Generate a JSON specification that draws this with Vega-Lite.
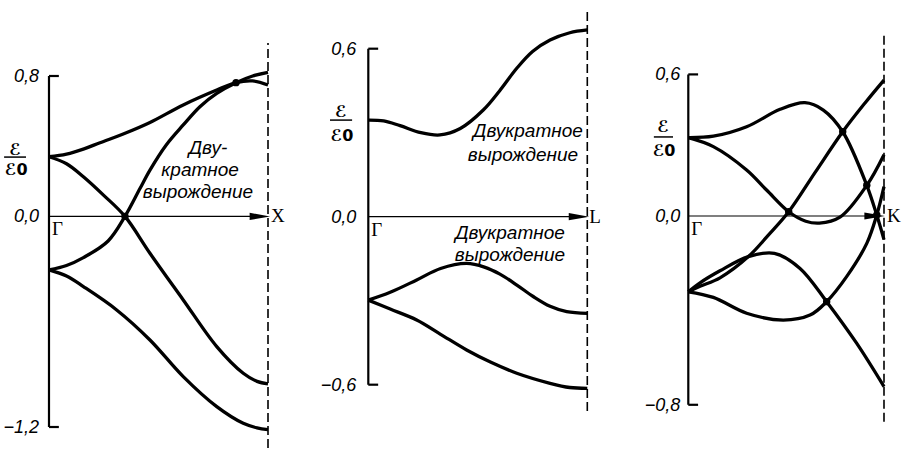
{
  "$schema": "https://vega.github.io/schema/vega-lite/v6.json",
  "padding": 0,
  "spacing": 0,
  "bounds": "flush",
  "background": "white",
  "config": {"view": {"stroke": null}, "axis": {"disable": true}},
  "resolve": {"scale": {"x": "independent", "y": "independent"}},
  "hconcat": [
    {
      "width": 300, "height": 451,
      "encoding": {
        "x": {"field": "k", "type": "quantitative", "axis": null, "scale": {"domain": [-0.2237, 1.1461], "nice": false, "zero": false}},
        "y": {"field": "v", "type": "quantitative", "axis": null, "scale": {"domain": [-1.3367, 1.2330], "nice": false, "zero": false}}
      },
      "layer": [
        {
          "data": {"values": [
            {"curve": "A", "k": 0, "v": 0.34}, {"curve": "A", "k": 0.08, "v": 0.355}, {"curve": "A", "k": 0.16, "v": 0.385}, {"curve": "A", "k": 0.233, "v": 0.42}, {"curve": "A", "k": 0.35, "v": 0.475}, {"curve": "A", "k": 0.461, "v": 0.535}, {"curve": "A", "k": 0.613, "v": 0.635}, {"curve": "A", "k": 0.766, "v": 0.72}, {"curve": "A", "k": 0.854, "v": 0.762}, {"curve": "A", "k": 0.93, "v": 0.772}, {"curve": "A", "k": 1.0, "v": 0.749},
            {"curve": "B", "k": 0, "v": 0.34}, {"curve": "B", "k": 0.08, "v": 0.30}, {"curve": "B", "k": 0.157, "v": 0.226}, {"curve": "B", "k": 0.25, "v": 0.12}, {"curve": "B", "k": 0.347, "v": 0.0}, {"curve": "B", "k": 0.461, "v": -0.21}, {"curve": "B", "k": 0.613, "v": -0.476}, {"curve": "B", "k": 0.766, "v": -0.742}, {"curve": "B", "k": 0.887, "v": -0.894}, {"curve": "B", "k": 0.95, "v": -0.94}, {"curve": "B", "k": 1.0, "v": -0.954},
            {"curve": "C", "k": 0, "v": -0.305}, {"curve": "C", "k": 0.08, "v": -0.28}, {"curve": "C", "k": 0.157, "v": -0.235}, {"curve": "C", "k": 0.27, "v": -0.14}, {"curve": "C", "k": 0.347, "v": 0.0}, {"curve": "C", "k": 0.416, "v": 0.16}, {"curve": "C", "k": 0.461, "v": 0.264}, {"curve": "C", "k": 0.537, "v": 0.41}, {"curve": "C", "k": 0.613, "v": 0.521}, {"curve": "C", "k": 0.689, "v": 0.625}, {"curve": "C", "k": 0.766, "v": 0.701}, {"curve": "C", "k": 0.854, "v": 0.762}, {"curve": "C", "k": 0.93, "v": 0.80}, {"curve": "C", "k": 1.0, "v": 0.821},
            {"curve": "D", "k": 0, "v": -0.305}, {"curve": "D", "k": 0.08, "v": -0.34}, {"curve": "D", "k": 0.157, "v": -0.40}, {"curve": "D", "k": 0.309, "v": -0.533}, {"curve": "D", "k": 0.461, "v": -0.704}, {"curve": "D", "k": 0.613, "v": -0.913}, {"curve": "D", "k": 0.766, "v": -1.084}, {"curve": "D", "k": 0.887, "v": -1.179}, {"curve": "D", "k": 0.95, "v": -1.205}, {"curve": "D", "k": 1.0, "v": -1.215}
          ]},
          "mark": {"type": "line", "interpolate": "catmull-rom", "color": "black", "strokeWidth": 3.3},
          "encoding": {"detail": {"field": "curve", "type": "nominal"}, "order": {"field": "k", "type": "quantitative"}}
        },
        {"data": {"values": [{"k": 0, "v": -1.2, "v2": 0.8}]}, "mark": {"type": "rule", "color": "black", "strokeWidth": 2.2}, "encoding": {"y2": {"field": "v2"}}},
        {"data": {"values": [{"k": 0, "k2": 0.045, "v": 0.8}, {"k": 0, "k2": 0.045, "v": -1.2}]}, "mark": {"type": "rule", "color": "black", "strokeWidth": 2.2}, "encoding": {"x2": {"field": "k2"}}},
        {"data": {"values": [{"k": 0, "k2": 0.96, "v": 0}]}, "mark": {"type": "rule", "color": "black", "strokeWidth": 1.2}, "encoding": {"x2": {"field": "k2"}}},
        {"data": {"values": [{"k": 0.963, "v": 0}]}, "mark": {"type": "point", "shape": "M-1,-0.35L1,0L-1,0.35Z", "filled": true, "color": "black", "opacity": 1, "size": 420}},
        {"data": {"values": [{"k": 1, "v": -1.32, "v2": 0.988}]}, "mark": {"type": "rule", "color": "black", "strokeWidth": 1.6, "strokeDash": [9, 4]}, "encoding": {"y2": {"field": "v2"}}},
        {"data": {"values": [{"k": 0.347, "v": 0}, {"k": 0.854, "v": 0.762}]}, "mark": {"type": "point", "filled": true, "color": "black", "opacity": 1, "size": 55}},
        {"data": {"values": [{"k": 0, "v": 0.8, "t": "0,8"}, {"k": 0, "v": 0, "t": "0,0"}, {"k": 0, "v": -1.2, "t": "−1,2"}]}, "mark": {"type": "text", "align": "right", "baseline": "middle", "dx": -10, "dy": 1, "font": "Liberation Sans", "fontStyle": "italic", "fontSize": 18, "color": "black"}, "encoding": {"text": {"field": "t"}}},
        {"data": {"values": [{"k": 0, "v": 0, "t": "Γ"}]}, "mark": {"type": "text", "align": "left", "baseline": "top", "dx": 3, "dy": 4, "font": "Liberation Serif", "fontSize": 19, "color": "black"}, "encoding": {"text": {"field": "t"}}},
        {"data": {"values": [{"k": 1, "v": 0, "t": "X"}]}, "mark": {"type": "text", "align": "left", "baseline": "middle", "dx": 3, "dy": 0, "font": "Liberation Serif", "fontSize": 19, "color": "black"}, "encoding": {"text": {"field": "t"}}},
        {"data": {"values": [{"k": 0.726, "v": 0.39, "t": "Дву-"}, {"k": 0.69, "v": 0.264, "t": "кратное"}, {"k": 0.68, "v": 0.139, "t": "вырождение"}]}, "mark": {"type": "text", "align": "center", "baseline": "middle", "font": "Liberation Sans", "fontStyle": "italic", "fontSize": 19, "color": "black"}, "encoding": {"text": {"field": "t"}}},
        {"data": {"values": [{"k": -0.155, "v": 0.378, "t": "ℰ"}, {"k": -0.15, "v": 0.264, "t": "ℰ0"}]}, "mark": {"type": "text", "align": "center", "baseline": "middle", "font": "DejaVu Sans", "fontSize": 16, "fontWeight": "bold", "color": "black"}, "encoding": {"text": {"field": "t"}}},
        {"data": {"values": [{"k": -0.205, "k2": -0.105, "v": 0.338}]}, "mark": {"type": "rule", "color": "black", "strokeWidth": 1.5}, "encoding": {"x2": {"field": "k2"}}}
      ]
    },
    {
      "width": 300, "height": 451,
      "encoding": {
        "x": {"field": "k", "type": "quantitative", "axis": null, "scale": {"domain": [-0.3119, 1.058], "nice": false, "zero": false}},
        "y": {"field": "v", "type": "quantitative", "axis": null, "scale": {"domain": [-0.8368, 0.7739], "nice": false, "zero": false}}
      },
      "layer": [
        {
          "data": {"values": [
            {"curve": "U", "k": 0, "v": 0.345}, {"curve": "U", "k": 0.07, "v": 0.342}, {"curve": "U", "k": 0.145, "v": 0.325}, {"curve": "U", "k": 0.24, "v": 0.30}, {"curve": "U", "k": 0.327, "v": 0.292}, {"curve": "U", "k": 0.42, "v": 0.315}, {"curve": "U", "k": 0.525, "v": 0.381}, {"curve": "U", "k": 0.6, "v": 0.45}, {"curve": "U", "k": 0.678, "v": 0.53}, {"curve": "U", "k": 0.75, "v": 0.59}, {"curve": "U", "k": 0.83, "v": 0.631}, {"curve": "U", "k": 0.92, "v": 0.657}, {"curve": "U", "k": 1.0, "v": 0.667},
            {"curve": "L1", "k": 0, "v": -0.298}, {"curve": "L1", "k": 0.1, "v": -0.27}, {"curve": "L1", "k": 0.221, "v": -0.226}, {"curve": "L1", "k": 0.33, "v": -0.185}, {"curve": "L1", "k": 0.449, "v": -0.167}, {"curve": "L1", "k": 0.53, "v": -0.18}, {"curve": "L1", "k": 0.601, "v": -0.205}, {"curve": "L1", "k": 0.68, "v": -0.245}, {"curve": "L1", "k": 0.753, "v": -0.285}, {"curve": "L1", "k": 0.83, "v": -0.32}, {"curve": "L1", "k": 0.906, "v": -0.339}, {"curve": "L1", "k": 1.0, "v": -0.345},
            {"curve": "L2", "k": 0, "v": -0.298}, {"curve": "L2", "k": 0.1, "v": -0.33}, {"curve": "L2", "k": 0.221, "v": -0.369}, {"curve": "L2", "k": 0.33, "v": -0.42}, {"curve": "L2", "k": 0.449, "v": -0.476}, {"curve": "L2", "k": 0.56, "v": -0.52}, {"curve": "L2", "k": 0.678, "v": -0.559}, {"curve": "L2", "k": 0.83, "v": -0.595}, {"curve": "L2", "k": 0.92, "v": -0.61}, {"curve": "L2", "k": 1.0, "v": -0.613}
          ]},
          "mark": {"type": "line", "interpolate": "catmull-rom", "color": "black", "strokeWidth": 3.3},
          "encoding": {"detail": {"field": "curve", "type": "nominal"}, "order": {"field": "k", "type": "quantitative"}}
        },
        {"data": {"values": [{"k": 0, "v": -0.6, "v2": 0.6}]}, "mark": {"type": "rule", "color": "black", "strokeWidth": 2.2}, "encoding": {"y2": {"field": "v2"}}},
        {"data": {"values": [{"k": 0, "k2": 0.045, "v": 0.6}, {"k": 0, "k2": 0.045, "v": -0.6}]}, "mark": {"type": "rule", "color": "black", "strokeWidth": 2.2}, "encoding": {"x2": {"field": "k2"}}},
        {"data": {"values": [{"k": 0, "k2": 0.96, "v": 0}]}, "mark": {"type": "rule", "color": "black", "strokeWidth": 1.2}, "encoding": {"x2": {"field": "k2"}}},
        {"data": {"values": [{"k": 0.962, "v": 0}]}, "mark": {"type": "point", "shape": "M-1,-0.35L1,0L-1,0.35Z", "filled": true, "color": "black", "opacity": 1, "size": 420}},
        {"data": {"values": [{"k": 1, "v": -0.694, "v2": 0.745}]}, "mark": {"type": "rule", "color": "black", "strokeWidth": 1.6, "strokeDash": [9, 4]}, "encoding": {"y2": {"field": "v2"}}},
        {"data": {"values": [{"k": 0, "v": 0.6, "t": "0,6"}, {"k": 0, "v": 0, "t": "0,0"}, {"k": 0, "v": -0.6, "t": "−0,6"}]}, "mark": {"type": "text", "align": "right", "baseline": "middle", "dx": -12, "dy": 1, "font": "Liberation Sans", "fontStyle": "italic", "fontSize": 18, "color": "black"}, "encoding": {"text": {"field": "t"}}},
        {"data": {"values": [{"k": 0, "v": 0, "t": "Γ"}]}, "mark": {"type": "text", "align": "left", "baseline": "top", "dx": 3, "dy": 4, "font": "Liberation Serif", "fontSize": 19, "color": "black"}, "encoding": {"text": {"field": "t"}}},
        {"data": {"values": [{"k": 1, "v": 0, "t": "L"}]}, "mark": {"type": "text", "align": "left", "baseline": "middle", "dx": 2, "dy": 0, "font": "Liberation Serif", "fontSize": 19, "color": "black"}, "encoding": {"text": {"field": "t"}}},
        {"data": {"values": [{"k": 0.729, "v": 0.306, "t": "Двукратное"}, {"k": 0.706, "v": 0.22, "t": "вырождение"}, {"k": 0.647, "v": -0.058, "t": "Двукратное"}, {"k": 0.647, "v": -0.136, "t": "вырождение"}]}, "mark": {"type": "text", "align": "center", "baseline": "middle", "font": "Liberation Sans", "fontStyle": "italic", "fontSize": 19, "color": "black"}, "encoding": {"text": {"field": "t"}}},
        {"data": {"values": [{"k": -0.125, "v": 0.374, "t": "ℰ"}, {"k": -0.12, "v": 0.288, "t": "ℰ0"}]}, "mark": {"type": "text", "align": "center", "baseline": "middle", "font": "DejaVu Sans", "fontSize": 16, "fontWeight": "bold", "color": "black"}, "encoding": {"text": {"field": "t"}}},
        {"data": {"values": [{"k": -0.175, "k2": -0.074, "v": 0.345}]}, "mark": {"type": "rule", "color": "black", "strokeWidth": 1.5}, "encoding": {"x2": {"field": "k2"}}}
      ]
    },
    {
      "width": 303, "height": 451,
      "encoding": {
        "x": {"field": "k", "type": "quantitative", "axis": null, "scale": {"domain": [-0.4512, 1.0971], "nice": false, "zero": false}},
        "y": {"field": "v", "type": "quantitative", "axis": null, "scale": {"domain": [-0.9958, 0.9153], "nice": false, "zero": false}}
      },
      "layer": [
        {
          "data": {"values": [
            {"curve": "P1", "k": 0, "v": 0.332}, {"curve": "P1", "k": 0.128, "v": 0.338}, {"curve": "P1", "k": 0.298, "v": 0.378}, {"curve": "P1", "k": 0.469, "v": 0.452}, {"curve": "P1", "k": 0.596, "v": 0.48}, {"curve": "P1", "k": 0.69, "v": 0.449}, {"curve": "P1", "k": 0.789, "v": 0.357}, {"curve": "P1", "k": 0.912, "v": 0.13}, {"curve": "P1", "k": 0.963, "v": 0.004}, {"curve": "P1", "k": 1.0, "v": -0.10},
            {"curve": "P2", "k": 0, "v": 0.332}, {"curve": "P2", "k": 0.128, "v": 0.294}, {"curve": "P2", "k": 0.298, "v": 0.195}, {"curve": "P2", "k": 0.4, "v": 0.11}, {"curve": "P2", "k": 0.513, "v": 0.018}, {"curve": "P2", "k": 0.6, "v": -0.022}, {"curve": "P2", "k": 0.67, "v": -0.03}, {"curve": "P2", "k": 0.775, "v": -0.005}, {"curve": "P2", "k": 0.912, "v": 0.13}, {"curve": "P2", "k": 1.0, "v": 0.26},
            {"curve": "P3", "k": 0, "v": -0.321}, {"curve": "P3", "k": 0.06, "v": -0.298}, {"curve": "P3", "k": 0.162, "v": -0.262}, {"curve": "P3", "k": 0.307, "v": -0.172}, {"curve": "P3", "k": 0.409, "v": -0.081}, {"curve": "P3", "k": 0.513, "v": 0.018}, {"curve": "P3", "k": 0.649, "v": 0.186}, {"curve": "P3", "k": 0.789, "v": 0.357}, {"curve": "P3", "k": 0.903, "v": 0.479}, {"curve": "P3", "k": 1.0, "v": 0.576},
            {"curve": "P4", "k": 0, "v": -0.321}, {"curve": "P4", "k": 0.06, "v": -0.283}, {"curve": "P4", "k": 0.162, "v": -0.232}, {"curve": "P4", "k": 0.307, "v": -0.172}, {"curve": "P4", "k": 0.44, "v": -0.158}, {"curve": "P4", "k": 0.571, "v": -0.222}, {"curve": "P4", "k": 0.707, "v": -0.363}, {"curve": "P4", "k": 0.86, "v": -0.539}, {"curve": "P4", "k": 1.0, "v": -0.723},
            {"curve": "P5", "k": 0, "v": -0.321}, {"curve": "P5", "k": 0.128, "v": -0.345}, {"curve": "P5", "k": 0.298, "v": -0.412}, {"curve": "P5", "k": 0.485, "v": -0.441}, {"curve": "P5", "k": 0.622, "v": -0.42}, {"curve": "P5", "k": 0.707, "v": -0.363}, {"curve": "P5", "k": 0.809, "v": -0.257}, {"curve": "P5", "k": 0.912, "v": -0.116}, {"curve": "P5", "k": 0.963, "v": 0.004}, {"curve": "P5", "k": 1.0, "v": 0.124}
          ]},
          "mark": {"type": "line", "interpolate": "catmull-rom", "color": "black", "strokeWidth": 3.3},
          "encoding": {"detail": {"field": "curve", "type": "nominal"}, "order": {"field": "k", "type": "quantitative"}}
        },
        {"data": {"values": [{"k": 0, "v": -0.8, "v2": 0.6}]}, "mark": {"type": "rule", "color": "black", "strokeWidth": 2.2}, "encoding": {"y2": {"field": "v2"}}},
        {"data": {"values": [{"k": 0, "k2": 0.05, "v": 0.6}, {"k": 0, "k2": 0.05, "v": -0.8}]}, "mark": {"type": "rule", "color": "black", "strokeWidth": 2.2}, "encoding": {"x2": {"field": "k2"}}},
        {"data": {"values": [{"k": 0, "k2": 0.95, "v": 0}]}, "mark": {"type": "rule", "color": "black", "strokeWidth": 1.2}, "encoding": {"x2": {"field": "k2"}}},
        {"data": {"values": [{"k": 0.952, "v": 0}]}, "mark": {"type": "point", "shape": "M-1,-0.35L1,0L-1,0.35Z", "filled": true, "color": "black", "opacity": 1, "size": 420}},
        {"data": {"values": [{"k": 1, "v": -0.872, "v2": 0.781}]}, "mark": {"type": "rule", "color": "black", "strokeWidth": 1.6, "strokeDash": [9, 4]}, "encoding": {"y2": {"field": "v2"}}},
        {"data": {"values": [{"k": 0.513, "v": 0.018}, {"k": 0.789, "v": 0.357}, {"k": 0.912, "v": 0.13}, {"k": 0.963, "v": 0.004}, {"k": 0.707, "v": -0.363}]}, "mark": {"type": "point", "filled": true, "color": "black", "opacity": 1, "size": 55}},
        {"data": {"values": [{"k": 0, "v": 0.6, "t": "0,6"}, {"k": 0, "v": 0, "t": "0,0"}, {"k": 0, "v": -0.8, "t": "−0,8"}]}, "mark": {"type": "text", "align": "right", "baseline": "middle", "dx": -8, "dy": 1, "font": "Liberation Sans", "fontStyle": "italic", "fontSize": 18, "color": "black"}, "encoding": {"text": {"field": "t"}}},
        {"data": {"values": [{"k": 0, "v": 0, "t": "Γ"}]}, "mark": {"type": "text", "align": "left", "baseline": "top", "dx": 3, "dy": 4, "font": "Liberation Serif", "fontSize": 19, "color": "black"}, "encoding": {"text": {"field": "t"}}},
        {"data": {"values": [{"k": 1, "v": 0, "t": "K"}]}, "mark": {"type": "text", "align": "left", "baseline": "middle", "dx": 3, "dy": 0, "font": "Liberation Serif", "fontSize": 19, "color": "black"}, "encoding": {"text": {"field": "t"}}},
        {"data": {"values": [{"k": -0.129, "v": 0.377, "t": "ℰ"}, {"k": -0.124, "v": 0.275, "t": "ℰ0"}]}, "mark": {"type": "text", "align": "center", "baseline": "middle", "font": "DejaVu Sans", "fontSize": 16, "fontWeight": "bold", "color": "black"}, "encoding": {"text": {"field": "t"}}},
        {"data": {"values": [{"k": -0.176, "k2": -0.078, "v": 0.335}]}, "mark": {"type": "rule", "color": "black", "strokeWidth": 1.5}, "encoding": {"x2": {"field": "k2"}}}
      ]
    }
  ]
}
